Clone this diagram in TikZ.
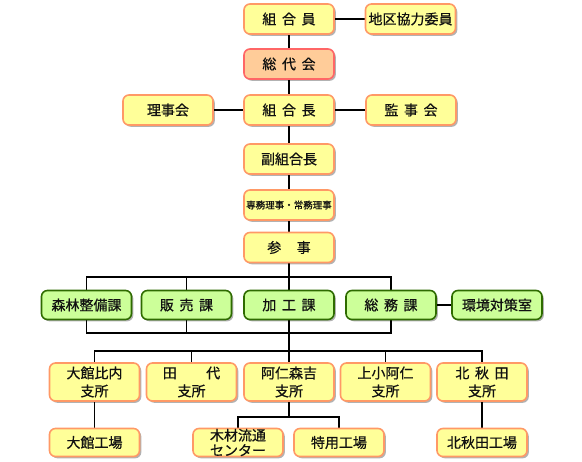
\documentclass[tikz,border=0pt]{standalone}
\usepackage{fontspec}
\setmainfont{Noto Sans CJK JP}
\newfontfamily\jfont{Noto Sans CJK JP}[FakeBold=0.7]
\usetikzlibrary{shadows}
\pgfdeclarelayer{bg}
\pgfsetlayers{bg,main}
\definecolor{ybox}{HTML}{FFFF99}
\definecolor{yline}{HTML}{FF9966}
\definecolor{gbox}{HTML}{CCFF99}
\definecolor{gline}{HTML}{2E6B00}
\definecolor{sbox}{HTML}{FFCC99}
\definecolor{sline}{HTML}{FF6666}
\definecolor{ink}{HTML}{111111}
\newcommand{\jgap}{\hspace{0.4em}}
\tikzset{
  base/.style={rounded corners=6pt, line width=1.6pt, minimum width=90pt,
    minimum height=30pt, inner sep=0pt, align=center, text=ink,
    font=\jfont\fontsize{14}{18}\selectfont,
    drop shadow={shadow xshift=1.8pt, shadow yshift=-1.8pt, fill=black, opacity=0.3}},
  ybx/.style={base, draw=yline, fill=ybox},
  gbx/.style={base, draw=gline, fill=gbox, minimum height=29pt},
  sbx/.style={base, draw=sline, fill=sbox},
  twol/.style={minimum height=38pt},
  fac/.style={minimum height=28pt},
  conn/.style={line width=1.6pt, black},
}
\begin{document}
\begin{tikzpicture}[x=1pt, y=-1pt]
\useasboundingbox (0,0) rectangle (582,462);
% top column
\node[ybx] (kumiaiin) at (289,19) {組\jgap 合\jgap 員};
\node[ybx] (chiku) at (410.5,19) {地区協力委員};
\node[sbx] (soudai) at (289,64) {総\jgap 代\jgap 会};
\node[ybx] (riji) at (168,110) {理事会};
\node[ybx] (kumiaicho) at (289,110) {組\jgap 合\jgap 長};
\node[ybx] (kanji) at (411,110) {監\jgap 事\jgap 会};
\node[ybx] (fuku) at (289,159) {副組合長};
\node[ybx, font=\jfont\fontsize{9.5}{11}\selectfont] (senmu) at (289,205) {専務理事・常務理事};
\node[ybx] (sanji) at (289,247.5) {参\hspace{1.1em}事};
% green row
\node[gbx] (shinrin) at (86.5,305) {森林整備課};
\node[gbx] (hanbai) at (186.5,305) {販\jgap 売\jgap 課};
\node[gbx] (kako) at (289,305) {加\jgap 工\jgap 課};
\node[gbx] (somu) at (391,305) {総\jgap 務\jgap 課};
\node[gbx] (kankyo) at (497,305) {環境対策室};
% branch row
\node[ybx, twol] (odate) at (94.5,382) {大館比内\\支所};
\node[ybx, twol] (tashiro) at (191.5,382) {田\hspace{2.1em}代\\支所};
\node[ybx, twol] (ani) at (289,382) {阿仁森吉\\支所};
\node[ybx, twol] (kamiko) at (385.5,382) {上小阿仁\\支所};
\node[ybx, twol] (kita) at (482,382) {北\jgap 秋\jgap 田\\支所};
% factory row
\node[ybx, fac] (odateF) at (94.5,442.5) {大館工場};
\node[ybx, fac, font=\jfont\fontsize{14}{15}\selectfont] (mokuzai) at (238,442.5) {木材流通\\センター};
\node[ybx, fac] (tokuyo) at (339,442.5) {特用工場};
\node[ybx, fac] (kitaF) at (482,442.5) {北秋田工場};
% bars
\coordinate (b1) at (289,277);
\coordinate (b2) at (289,333);
\coordinate (b3) at (289,351);
\coordinate (b4) at (289,417);
\begin{pgfonlayer}{bg}
\draw[conn] (kumiaiin) -- (chiku);
\draw[conn] (kumiaiin) -- (soudai);
\draw[conn] (soudai) -- (kumiaicho);
\draw[conn] (riji) -- (kumiaicho);
\draw[conn] (kumiaicho) -- (kanji);
\draw[conn] (kumiaicho) -- (fuku);
\draw[conn] (fuku) -- (senmu);
\draw[conn] (senmu) -- (sanji);
\draw[conn] (sanji) -- (kako);
\draw[conn] (shinrin) |- (somu |- b1) -- (somu);
\draw[conn] (hanbai) -- (hanbai |- b1);
\draw[conn] (somu) -- (kankyo);
\draw[conn] (shinrin) |- (somu |- b2) -- (somu);
\draw[conn] (hanbai) -- (hanbai |- b2);
\draw[conn] (kako) -- (ani);
\draw[conn] (odate) |- (kita |- b3) -- (kita);
\draw[conn] (tashiro) -- (tashiro |- b3);
\draw[conn] (kamiko) -- (kamiko |- b3);
\draw[conn] (odate) -- (odateF);
\draw[conn] (kita) -- (kitaF);
\draw[conn] (ani) -- (b4);
\draw[conn] (mokuzai) |- (tokuyo |- b4) -- (tokuyo);
\end{pgfonlayer}
\end{tikzpicture}
\end{document}
